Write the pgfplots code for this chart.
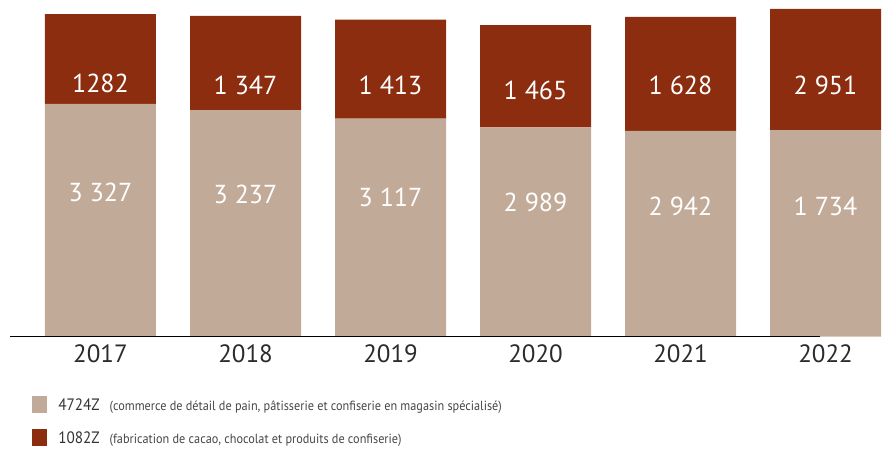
\documentclass[border=0pt]{standalone}
\usepackage{pgfplots}
\pgfplotsset{compat=1.18}
\usepackage{pgfplotstable}
\usepackage{fontspec}
\setmainfont{PT Sans}
\newfontfamily\cond[FakeStretch=0.92]{PT Sans}
\definecolor{light}{RGB}{194,170,152}
\definecolor{dark}{RGB}{139,45,14}
\definecolor{yeartxt}{RGB}{43,43,43}
\definecolor{legmain}{RGB}{51,51,51}
\definecolor{legsub}{RGB}{70,70,70}
\definecolor{baseline}{RGB}{112,112,112}

\pgfplotstableread[col sep=comma]{
x,a,b
0,3327,1282
1,3237,1347
2,3117,1413
3,2989,1465
4,2942,1628
5,2951,1734
}\bars

\pgfplotstableread[col sep=comma]{
x,y,label
0,2059,3 327
1,2038,3 237
2,1995,3 117
3,1923,2 989
4,1866,2 942
5,1866,1 734
}\lowlabels

\pgfplotstableread[col sep=comma]{
x,y,label
0,3625,1282
1,3596,1 347
2,3596,1 413
3,3513,1 465
4,3585,1 628
5,3585,2 951
}\highlabels

\begin{document}
\begin{tikzpicture}
\useasboundingbox (0,-113.5pt) rectangle (886pt,336.5pt);
\pgfplotsset{
  common/.style={
    scale only axis, width=886pt, height=336.5pt,
    xmin=-0.693, xmax=5.417, ymin=0, ymax=4812,
    anchor=south west, at={(0,0)},
  }
}
\begin{axis}[common,
  ybar stacked, bar width=111pt,
  axis line style={draw=none},
  ytick=\empty,
  xtick={0,1,2,3,4,5},
  xticklabels={2017,2018,2019,2020,2021,2022},
  major tick length=0pt,
  xticklabel style={font=\fontsize{25}{28}\selectfont, text=yeartxt, inner sep=0pt, anchor=north, yshift=-7.5pt},
  legend style={at={(0,0)}, anchor=north west, xshift=32.3pt, yshift=-59.2pt,
    draw=none, fill=none, inner sep=0pt, outer sep=0pt,
    column sep=11.6pt, row sep=15.4pt,
    font=\cond\fontsize{16.5}{18}\selectfont, text=legmain,
    nodes={inner sep=0pt, text height=11.7pt, text depth=0pt}},
  legend cell align=left,
  legend image code/.code={\fill[#1,draw=none] (0pt,-8.8pt) rectangle (14.4pt,8.8pt);},
]
\addplot[fill=light, draw=none] table[x=x, y=a] {\bars};
\addlegendentry{4724Z\hspace{10pt}{\fontsize{13.3}{15}\selectfont\color{legsub}(commerce de détail de pain, pâtisserie et confiserie en magasin spécialisé)}}
\addplot[fill=dark, draw=none] table[x=x, y=b] {\bars};
\addlegendentry{1082Z\hspace{10pt}{\fontsize{13.3}{15}\selectfont\color{legsub}(fabrication de cacao, chocolat et produits de confiserie)}}
\end{axis}
\begin{axis}[common, hide axis, clip=false]
\addplot[baseline, line width=1.6pt] coordinates {(-0.624,0) (4.962,0)};
\addplot[draw=none, mark=none, nodes near coords, point meta=explicit symbolic,
  every node near coord/.append style={anchor=center, text=white, font=\fontsize{26}{28}\selectfont}]
  table[x=x, y=y, meta=label] {\lowlabels};
\addplot[draw=none, mark=none, nodes near coords, point meta=explicit symbolic,
  every node near coord/.append style={anchor=center, text=white, font=\fontsize{26}{28}\selectfont}]
  table[x=x, y=y, meta=label] {\highlabels};
\end{axis}
\end{tikzpicture}
\end{document}
